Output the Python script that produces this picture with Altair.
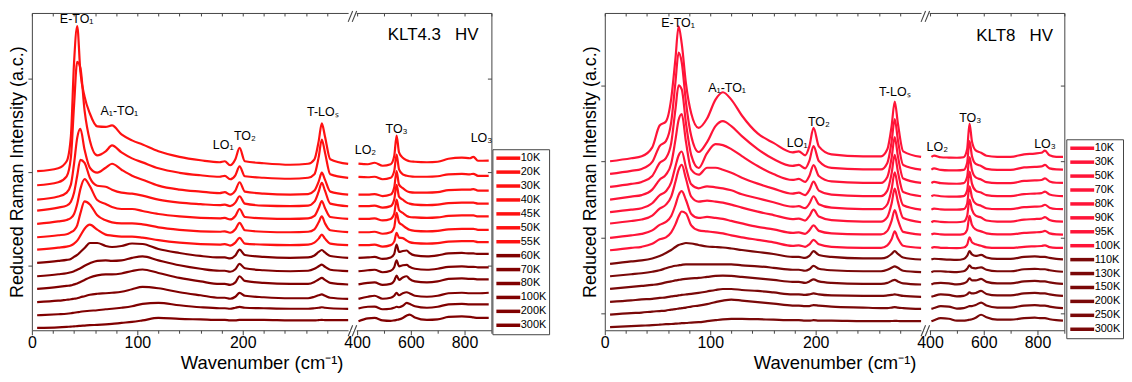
import altair as alt
import pandas as pd

FONT = "Liberation Sans"
FRAME = "#444444"

# ---------------- shared axis definitions ----------------
x_ticks = [0, 20, 40, 60, 80, 100, 120, 140, 160, 180, 200, 220, 240, 260, 280,
           400, 500, 600, 700, 800, 900]
x_labelled = [0, 100, 200, 400, 600, 800]
x_domain = [0, 300, 400, 900]          # broken axis: 0-300 | 400-900
x_range = [0, 318, 327, 462]

# ---------------- KLT4.3 HV ----------------
temps_a = ["10K", "20K", "30K", "40K", "45K", "50K", "55K", "60K", "70K", "80K", "100K", "200K", "300K"]
colors_a = ["#ff1111", "#ff1111", "#ff1111", "#ff1111", "#ff1111", "#ff1111", "#ff1111",
            "#800000", "#800000", "#800000", "#800000", "#800000", "#800000"]
offsets_a = [159.9, 145.8, 131.4, 120.3, 106.9, 93.5, 81.1, 67.7, 54.3, 41.6, 28.2, 15.1, 2.4]
yticks_a = [65.4, 159.2, 253]

xa_low = [5, 25, 33, 37, 40, 43, 46, 50, 55, 62, 70, 76, 85, 95, 105, 120, 140, 160, 178,
          183, 188, 193, 197, 202, 220, 245, 262, 268, 272, 275, 278, 283, 300]
xa_high = [405, 440, 465, 495, 525, 538, 547, 556, 570, 585, 595, 615, 660, 700, 740, 790,
           820, 833, 850, 890]

a_low = [
    [0, 3, 10, 35, 109, 146, 100, 75, 58, 45, 44.5, 46, 37, 31, 26.8, 20, 14.4, 11, 9, 10, 6, 12, 23.4, 10, 8, 6.5, 7.5, 12, 30, 48, 35, 12, 7.3],
    [0, 3, 9, 28, 80, 124, 118, 75, 45, 30, 34, 40, 33, 27, 23, 17, 12.5, 10, 8.5, 9.5, 6, 10, 19, 9, 7.5, 6.5, 7.5, 11, 28, 46, 33, 11, 7.4],
    [0, 3, 7, 15, 36, 62, 71, 50, 32, 27, 32, 36, 30, 24, 20, 14, 10, 8, 6.5, 7.5, 5, 9, 17.4, 8, 6, 5, 5.5, 9, 18, 27, 20, 8, 5],
    [0, 3, 5, 9, 18, 35, 51, 48, 33, 25, 24, 21, 18, 17, 15, 11, 8, 6.5, 5.5, 6, 4.5, 8, 14.4, 7, 5, 4.5, 5, 9, 19, 28, 20, 7, 4.4],
    [0, 2.5, 4, 6, 10, 20, 35, 45, 38, 24, 20, 17, 15, 15, 13, 10, 7.5, 6, 5.5, 6, 4.5, 8, 15, 7, 5.5, 5, 5.5, 8, 16, 23, 16, 7, 5.1],
    [0, 2, 3, 5, 7, 12, 24, 36, 33, 22, 17, 15, 14, 14, 13, 10, 7.5, 6, 5.5, 6, 4.5, 8, 14.5, 7, 5.5, 5, 5.5, 8, 15, 21, 14, 7, 5.1],
    [0, 2, 3, 4, 6, 9, 14, 21, 25, 20, 15, 14, 13, 13, 12, 9.5, 7, 5.5, 5, 5.5, 4, 7, 11.8, 6, 5, 4.5, 5, 7, 11, 15, 11, 6, 4.4],
    [0, 2, 3, 4, 6, 8, 11, 15, 20, 20, 17, 16, 17, 19.5, 19, 14, 10, 7, 5.5, 5.5, 4.5, 7.5, 13.4, 8, 6, 5, 5.5, 7.5, 11, 13, 10.5, 7, 5.1],
    [0, 2, 3, 4, 5, 6.5, 8, 10.5, 13, 15.5, 16, 15.5, 16, 18.5, 20, 16, 11, 7.5, 5.5, 5.5, 4.5, 7, 12.4, 8, 6, 5, 5.5, 7.5, 10, 11.7, 9.5, 6.5, 5.1],
    [0, 2, 3, 3.5, 4.5, 5.5, 7, 9, 11.5, 13.5, 14.5, 14.5, 15.5, 18, 19.5, 16, 11, 7.5, 5, 5, 4, 6.5, 12.7, 8, 6, 5, 5, 7, 9.5, 11, 9, 6, 4.4],
    [0, 1.5, 2.5, 3, 3.5, 4, 5, 6, 7.5, 8.5, 9, 9.5, 10.5, 13, 15.4, 14, 10, 7, 4.5, 4.5, 3.5, 5.5, 9.4, 6.5, 5, 4, 4, 5.5, 7, 7.8, 6.5, 4.5, 3.4],
    [0, 1, 1.5, 2, 2.5, 3, 3.5, 4, 4.5, 5, 6, 6.5, 7.5, 9, 11.5, 12.5, 10, 8, 7, 7, 6.5, 7.5, 8.4, 7.5, 7, 6.5, 6.5, 7, 7.5, 8, 7.5, 7, 6.4],
    [0, 0.5, 1, 1.3, 1.5, 1.8, 2, 2.3, 2.7, 3, 3.5, 4, 5, 6, 7.5, 10, 9, 8.5, 8, 8, 7.5, 7.5, 8, 8, 8, 7.5, 7.5, 7.5, 7.8, 8, 7.8, 7.7, 7.7],
]
a_high = [
    [7.7, 7, 8.5, 5.5, 7, 15, 35.8, 19, 13.5, 11, 10, 9.5, 9, 9.5, 12.5, 13.7, 13, 14.5, 10.5, 10.7],
    [8.4, 8, 8.5, 6, 7.5, 14, 30.8, 16, 11, 9.5, 9, 8.5, 8.5, 9, 11, 11.5, 11, 11.5, 9.5, 9.5],
    [5, 5, 5.5, 3.5, 5, 12, 28.5, 15, 11.5, 8.5, 7.5, 7, 7, 7.5, 9.5, 10, 10, 10.5, 9, 9],
    [4.4, 4.5, 5, 3, 4.5, 11, 26, 14, 11, 8, 7, 6, 5.5, 6, 7.5, 8, 8, 8, 7, 7],
    [5, 5, 5.5, 3.5, 5, 10, 24.5, 14, 11, 8, 7, 6.5, 6, 6.5, 8, 8.5, 8.5, 8.5, 7.5, 7.5],
    [5, 5, 5.5, 3.5, 5, 10, 24.5, 15, 12, 9, 7.5, 6.5, 6, 6.5, 8, 8.5, 8.5, 8.5, 7.5, 7.5],
    [4.4, 4.5, 5, 3, 4.5, 8, 16.8, 12, 11.5, 9, 7.5, 6.5, 6, 6.5, 8, 8.5, 8.5, 8.5, 7.5, 7.5],
    [5, 5.5, 6, 4, 5.5, 9, 18.5, 11, 12, 12.5, 10, 7.5, 6.5, 7.5, 9.5, 10, 9.5, 9.5, 9, 9],
    [5, 6, 6.5, 4, 5.5, 9, 16, 10, 11, 11.5, 9.5, 7.5, 6.5, 7.5, 9.5, 10, 9.5, 9.5, 9, 9],
    [4.5, 6, 6.5, 4, 5, 8, 13.4, 9, 11.5, 12.7, 10, 7.5, 6.5, 7.5, 10, 10.5, 10, 10, 9.5, 9.5],
    [3.4, 5.5, 6.5, 3.5, 4.5, 6.5, 9.4, 7, 9, 10, 9, 6.5, 5.5, 6.5, 9, 9.5, 9, 9, 9, 9.5],
    [6.7, 8.5, 8.6, 6, 6.5, 7.5, 8.5, 8, 9.5, 12.5, 11.5, 9, 7.5, 8.5, 11, 11.5, 11, 11, 11, 11],
    [6.7, 9.5, 10, 7.5, 7, 7.5, 8, 8.5, 10, 12.5, 13.4, 10.5, 8, 8.5, 11, 11.5, 11, 10.5, 10, 10],
]
ann_a_text = ["E-TO₁", "A₁-TO₁", "LO₁", "TO₂", "T-LOₛ", "LO₂", "TO₃", "LO₃"]
ann_a_x = [42.5, 83, 181.5, 202, 276, 431, 547, 863]
ann_a_y = [313, 220, 186, 195, 219, 181, 202, 193]
title_a = "KLT4.3\u00a0\u00a0\u00a0HV"
title_a_x, title_a_y = 683, 297

# ---------------- KLT8 HV ----------------
temps_b = ["10K", "30K", "50K", "70K", "80K", "90K", "95K", "100K", "110K", "130K", "150K", "200K", "250K", "300K"]
colors_b = ["#ff1438", "#ff1438", "#ff1438", "#ff1438", "#ff1438", "#ff1438", "#ff1438", "#ff1438",
            "#7a0808", "#7a0808", "#7a0808", "#7a0808", "#7a0808", "#7a0808"]
offsets_b = [169.9, 157.2, 144.1, 131.4, 118.7, 107.3, 92.9, 80.4, 66.7, 54.3, 41.6, 28.5, 15.8, 3.1]
yticks_b = [16.8, 93.5, 170, 246]

xb_low = [5, 25, 35, 45, 52, 58, 63, 67, 70, 73, 77, 82, 89, 97, 105, 112, 120, 130, 145, 160,
          178, 184, 190, 194, 198, 203, 215, 245, 262, 268, 272, 275, 278, 283, 300]
xb_high = [405, 415, 440, 470, 500, 525, 538, 547, 556, 570, 590, 610, 650, 700, 750, 790,
           815, 828, 845, 870, 895]

b_low = [
    [0, 3, 5, 14, 36, 40, 63, 103, 135.7, 118, 78, 48, 33.5, 43, 62, 69.4, 62, 46, 28, 18.5, 9, 10, 6, 15, 33.5, 15, 7, 5, 5, 12, 35, 60, 38, 10, 4.4],
    [0, 3, 5, 12, 28, 33, 52, 92, 122, 112, 72, 38, 22, 32, 48, 53, 48, 38, 25, 15, 8, 9, 5.5, 13, 28, 13, 6, 4.5, 4.5, 11, 32, 55, 34, 9, 4.3],
    [0, 3, 5, 11, 24, 29, 44, 78, 102, 98, 64, 32, 19, 34, 43, 42, 38, 31, 21, 13, 7, 8, 5, 11, 22, 11, 5.5, 4, 4, 10, 29, 50, 31, 8.5, 4],
    [0, 3, 4.5, 10, 20, 25, 36, 60, 80, 86, 58, 30, 25, 32, 32, 30, 27, 22, 16, 11, 6, 7, 4.5, 9.5, 18, 9, 5, 3.5, 3.5, 9, 26, 45, 28, 7.5, 3.3],
    [0, 2.5, 4, 9, 17, 21, 30, 46, 57, 61, 45, 28, 24, 26, 25, 24, 22, 18, 14, 10, 5.5, 6, 4, 8.5, 16, 8, 4.5, 3, 3, 8, 23, 40, 25, 7, 2.6],
    [0, 2.5, 4, 8, 15, 19, 27, 42, 54, 59, 45, 27, 22, 23, 22, 21, 19, 16, 12, 8.5, 4.5, 5, 3, 7.5, 14, 7, 3.5, 2, 2, 6.5, 20, 35, 22, 5.5, 1.3],
    [0, 2.5, 4, 7.5, 13, 16, 22, 33, 43, 47, 38, 24, 20, 21, 20, 19, 17, 14.5, 11, 8.5, 5, 5.5, 4, 7.5, 12.5, 7, 4.5, 3.5, 3.5, 7, 17, 28, 18, 6, 3.3],
    [0, 2.5, 3.5, 6.5, 11, 13, 18, 26, 34, 39, 37, 25, 20, 19, 18, 17, 15, 13, 10.5, 8, 4.5, 5, 3.5, 6, 10.5, 6, 3.5, 2.5, 2.5, 5, 11, 19, 12, 4.5, 2.4],
    [0, 2.5, 3.5, 5.5, 8, 11, 14, 17, 19, 20, 21, 20.5, 19, 17.5, 17, 16.5, 15.5, 14, 12, 10, 7, 7, 6, 8, 12.8, 9, 7, 5.5, 5.5, 7, 10, 12.8, 10, 6.5, 4.4],
    [0, 2, 3, 4.5, 6, 8, 9.5, 10.5, 11, 11.5, 12, 12, 12, 12, 12, 12, 12, 11, 10, 8.5, 6.5, 6.5, 5.5, 7, 10.5, 7.5, 6, 5, 5, 6.5, 8.5, 10, 8.5, 5.5, 4.1],
    [0, 2, 3, 4, 5, 6.5, 7.5, 8.5, 9, 9.5, 10, 10.5, 11, 12, 13, 13.4, 13, 12, 10.5, 9, 7, 7, 6, 7.5, 9.5, 7.5, 6, 5, 5, 6, 8, 9, 7.5, 5.5, 4.4],
    [0, 1.5, 2.5, 3, 4, 4.5, 5.5, 6, 6.5, 7, 7.5, 8, 9, 10.5, 12, 13, 13, 12, 11, 9.5, 7.5, 7.5, 7, 7.5, 8.5, 7.5, 6.5, 6, 6, 6.5, 7, 7.5, 7, 6, 5.1],
    [0, 1.5, 2, 3, 3.5, 4, 5, 5.5, 6, 6.5, 7, 8, 9, 10.5, 12.5, 14, 15, 14, 12.5, 11, 9, 9, 8.5, 8.5, 9.5, 9, 8, 7, 6.5, 6.5, 7, 7.5, 7, 6.5, 5.7],
    [0, 1, 1.5, 2, 2.5, 3, 3.2, 3.5, 3.7, 4, 4.2, 4.6, 5, 6, 7, 7.8, 8.3, 8.4, 8, 7.5, 7, 7, 6.5, 6.5, 7, 6.5, 6.5, 6, 6, 6, 6.2, 6.3, 6.2, 6, 6],
]
b_high = [
    [4.4, 5.7, 4, 3.7, 3.5, 4, 12, 37.9, 20, 11, 8.6, 5.5, 4.4, 4.4, 7, 7.7, 8.5, 10.7, 6, 4.5, 4.4],
    [4.3, 5.5, 4, 3.5, 3.5, 4, 11, 33, 18, 10, 8, 5, 4, 4, 6.5, 7, 7.5, 9, 5.5, 4.5, 4.3],
    [4, 5, 3.8, 3.3, 3.2, 3.8, 10, 30, 17, 9.5, 7.5, 4.8, 3.8, 3.8, 6, 6.5, 7, 8.5, 5.5, 4.2, 4],
    [3.3, 4.3, 3.3, 3, 3, 3.5, 9, 28, 16, 9, 7, 4.5, 3.5, 3.5, 5.5, 6, 6.5, 8, 5, 3.8, 3.5],
    [2.6, 3.6, 2.8, 2.5, 2.5, 3, 8.5, 26, 15, 8.5, 6.5, 4, 3, 3, 5, 5.5, 6, 7.5, 4.5, 3.2, 3],
    [1.3, 2.5, 1.6, 1.3, 1.3, 2, 7.5, 24, 14, 8, 6, 3, 2, 2, 4, 4.5, 5, 6.5, 3.5, 2.2, 2],
    [3.3, 4.3, 3.5, 3.2, 3.2, 3.8, 8, 22, 13, 8.5, 6.5, 4.5, 3.5, 3.5, 5, 5.5, 6, 7, 4.5, 3.5, 3.3],
    [2.4, 3.2, 2.5, 2.3, 2.2, 2.8, 5.5, 13, 8, 6, 4.5, 3, 2.4, 2.4, 3.5, 4, 4.3, 5, 3.2, 2.5, 2.4],
    [4.4, 5.2, 4.8, 4.3, 4, 5, 8, 12.8, 9.5, 8, 9, 6.5, 5, 5, 7, 7.5, 7, 7, 6, 5, 4.5],
    [4.1, 5, 5, 4.5, 4.2, 5, 7.5, 11, 8.5, 8, 9, 6.5, 5, 5, 7, 7.5, 7, 7, 6, 5, 4.5],
    [4.4, 5.5, 6, 5.5, 4.5, 5.5, 7.5, 10.5, 8.5, 8.5, 10, 7, 5.5, 5.5, 7.5, 8, 7.5, 7.5, 6.5, 5.5, 5],
    [5.1, 6, 7.5, 7, 5.5, 6, 7.5, 9.5, 8.5, 9, 11, 8, 6.5, 6.5, 8.5, 9, 8.5, 8.5, 7.5, 6.5, 6],
    [5.7, 6.5, 8.5, 8, 6, 6.5, 7.5, 8.5, 8.5, 9.5, 12, 9, 7, 7, 9, 9.5, 9, 9, 8, 7, 6.5],
    [6, 7, 9, 8.5, 6.5, 6.5, 7, 7.5, 8, 9.5, 12.5, 10, 7.5, 7.5, 9, 9.5, 9, 9, 8, 7, 6.5],
]
ann_b_text = ["E-TO₁", "A₁-TO₁", "LO₁", "TO₂", "T-LOₛ", "LO₂", "TO₃", "LO₃"]
ann_b_x = [69.5, 116, 182.5, 203, 275, 427, 549.5, 828]
ann_b_y = [309, 243.6, 188.4, 209, 239.3, 184.3, 213.5, 187.7]
title_b = "KLT8\u00a0\u00a0\u00a0HV"
title_b_x, title_b_y = 715, 296

# axis-break decoration (data units): two slashes at the top and bottom edges
slash_x = [300, 345, 300, 345]
slash_x2 = [350, 395, 350, 395]
slash_y = [310, 310, -6, -6]
slash_y2 = [321, 321, 5, 5]
gap_x, gap_x2 = [305, 305], [395, 395]
gap_y, gap_y2 = [-1.5, 317.5], [1.5, 320.5]


def spectra_frame(temps, offsets, x_low, x_high, low, high):
    rows = []
    for t, off, yl, yh in zip(temps, offsets, low, high):
        for x, v in zip(x_low, yl):
            rows.append({"T": t, "seg": "low", "x": x, "y": v + off})
        for x, v in zip(x_high, yh):
            rows.append({"T": t, "seg": "high", "x": x, "y": v + off})
    return pd.DataFrame(rows)


LABEL_EXPR = "indexof([0,100,200,400,600,800], datum.value) >= 0 ? datum.label : ''"
TICK_COND = {"condition": {"test": "indexof([0,100,200,400,600,800], datum.value) >= 0", "value": 4.5},
             "value": 3}


def panel(df, temps, colors, yticks, ann_text, ann_x, ann_y, title, tx, ty, lx, ly):
    xs = alt.Scale(domain=x_domain, range=x_range, nice=False, zero=False)
    ys = alt.Scale(domain=[0, 319], nice=False, zero=False)

    lines = alt.Chart(df).mark_line(strokeWidth=2.2, interpolate="monotone").encode(
        x=alt.X("x:Q", scale=xs, axis=alt.Axis(
            values=x_ticks, labelExpr=LABEL_EXPR, tickSize=TICK_COND, domain=False, grid=False,
            title="Wavenumber (cm⁻¹)", labelFontSize=16, titleFontSize=18.5, labelPadding=0,
            titlePadding=3, labelFlush=False, labelOverlap=False, tickColor=FRAME,
            labelColor="black", titleColor="black", titleFontWeight="normal",
            labelFont=FONT, titleFont=FONT)),
        y=alt.Y("y:Q", scale=ys, axis=alt.Axis(
            values=yticks, labels=False, tickSize=4, domain=False, grid=False,
            title="Reduced Raman Intensity (a.c.)", titleFontSize=18, titlePadding=1,
            titleFontWeight="normal", titleFont=FONT, titleColor="black", tickColor=FRAME)),
        color=alt.Color("T:N", scale=alt.Scale(domain=temps, range=colors), legend=alt.Legend(
            title=None, orient="none", legendX=lx, legendY=ly, symbolType="M-1,0H3.8",
            symbolSize=100, symbolStrokeWidth=3.5, labelFontSize=11, labelFont=FONT,
            labelColor="black", labelOffset=12.5, rowPadding=0, padding=2,
            strokeColor=FRAME, fillColor="white", symbolOpacity=1)),
        detail="seg:N",
    )

    gap = alt.Chart(pd.DataFrame({"x": gap_x, "x2": gap_x2, "y": gap_y, "y2": gap_y2})).mark_rect(
        color="white").encode(
        x=alt.X("x:Q", scale=xs, axis=None), x2="x2:Q",
        y=alt.Y("y:Q", scale=ys, axis=None), y2="y2:Q")

    slashes = alt.Chart(pd.DataFrame({"x": slash_x, "x2": slash_x2, "y": slash_y, "y2": slash_y2})
                        ).mark_rule(color=FRAME, strokeWidth=1.1).encode(
        x=alt.X("x:Q", scale=xs, axis=alt.Axis(
            orient="top", values=x_ticks, labels=False, tickSize=3, offset=-3, domain=False,
            grid=False, title=None, tickColor=FRAME)),
        x2="x2:Q",
        y=alt.Y("y:Q", scale=ys, axis=alt.Axis(
            orient="right", values=yticks, labels=False, tickSize=4, offset=-4, domain=False,
            grid=False, title=None, tickColor=FRAME)),
        y2="y2:Q")

    ann = alt.Chart(pd.DataFrame({"label": ann_text, "x": ann_x, "y": ann_y})).mark_text(
        fontSize=12.5, font=FONT, color="black").encode(
        x=alt.X("x:Q", scale=xs, axis=None), y=alt.Y("y:Q", scale=ys, axis=None), text="label:N")

    head = alt.Chart(pd.DataFrame({"label": [title], "x": [tx], "y": [ty]})).mark_text(
        fontSize=17, font=FONT, color="black").encode(
        x=alt.X("x:Q", scale=xs, axis=None), y=alt.Y("y:Q", scale=ys, axis=None), text="label:N")

    return alt.layer(lines, gap, slashes, ann, head).resolve_axis(
        x="independent", y="independent").properties(width=462, height=319)


df_a = spectra_frame(temps_a, offsets_a, xa_low, xa_high, a_low, a_high)
df_b = spectra_frame(temps_b, offsets_b, xb_low, xb_high, b_low, b_high)

left = panel(df_a, temps_a, colors_a, yticks_a, ann_a_text, ann_a_x, ann_a_y,
             title_a, title_a_x, title_a_y, 463, 137)
right = panel(df_b, temps_b, colors_b, yticks_b, ann_b_text, ann_b_x, ann_b_y,
              title_b, title_b_x, title_b_y, 464, 127)

chart = alt.hconcat(left, right, spacing=31).resolve_scale(color="independent").properties(
    padding={"left": 0, "right": 0, "top": 0, "bottom": 0}
).configure_view(stroke=FRAME, strokeWidth=1)

chart.save("out.html", embed_options={"renderer": "svg", "actions": False})
